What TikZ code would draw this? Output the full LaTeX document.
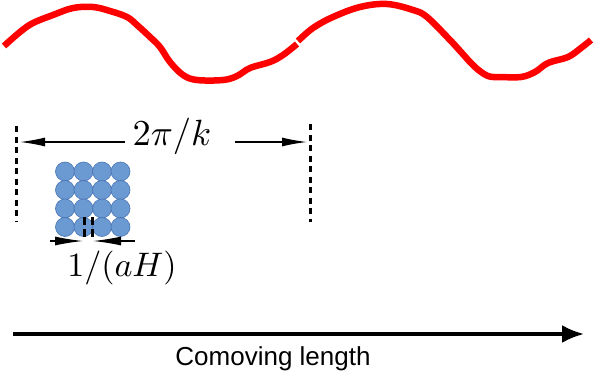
\documentclass[tikz,border=0pt]{standalone}
\usepackage{fontspec}
\setsansfont{Liberation Sans}
\usetikzlibrary{arrows.meta}
\definecolor{wavered}{RGB}{255,0,0}
\definecolor{ballfill}{RGB}{107,153,210}
\definecolor{balldraw}{RGB}{72,116,178}
\tikzset{
  wave/.style={wavered, line width=6.5pt, line join=round},
  dashv/.style={line width=3pt, dash pattern=on 6pt off 4.5pt},
  marker/.style={line width=3pt, dash pattern=on 8pt off 4pt},
  ball/.style={circle, minimum size=19pt, inner sep=0pt, fill=ballfill, draw=balldraw, line width=0.6pt},
  dimarrow/.style={line width=1.3pt, -{Latex[length=25pt, width=9pt]}},
  smallarrow/.style={line width=1.3pt, -{Latex[length=28pt, width=9pt]}},
  axisarrow/.style={line width=3.2pt, -{Latex[length=22pt, width=18pt]}},
  mathlabel/.style={inner sep=0pt},
}
\begin{document}
\begin{tikzpicture}[x=1pt, y=-1pt]
\useasboundingbox (0,0) rectangle (598,383);
% wave
\draw[wave] plot[smooth, tension=0.6] coordinates {(4,46) (20,32) (33,23) (53,15) (73,8) (93,7) (110,11) (127,17) (137,25) (150,37) (160,47) (170,62) (183,75) (197,80) (223,80) (237,76) (250,68) (270,62) (283,55) (297,44)};
\draw[wave] plot[smooth, tension=0.6] coordinates {(298,41) (313,28) (333,17) (360,7) (387,4) (413,10) (427,17) (450,40) (461,52) (475,67) (488,76) (501,77) (521,77) (535,72) (548,63) (568,57) (581,48) (591,40)};
% dashed verticals
\coordinate (l1) at (16,126); \coordinate (l2) at (16,222);
\coordinate (r1) at (310,124); \coordinate (r2) at (310,222);
\draw[dashv] (l1) -- (l2);
\draw[dashv] (r1) -- (r2);
% 2pi/k label and arrows
\node[mathlabel] (k) at (172,136) {\scalebox{3.65}{$2\pi/k$}};
\coordinate (ka) at (20,142); \coordinate (kb) at (307,142);
\coordinate (kl) at (125,142); \coordinate (kr) at (235,142);
\draw[dimarrow] (kl) -- (ka);
\draw[dimarrow] (kr) -- (kb);
% balls
\foreach \i in {0,...,3}{
  \foreach \j in {0,...,3}{
    \node[ball] (b\i\j) at (65+18.5*\i, 171.5+18.5*\j) {};
  }
}
% small dashed markers
\coordinate (m1) at (84,217); \coordinate (m2) at (84,239);
\coordinate (m3) at (92,217); \coordinate (m4) at (92,239);
\draw[marker] (m1) -- (m2);
\draw[marker] (m3) -- (m4);
\coordinate (s1) at (50,241); \coordinate (s2) at (83,241);
\coordinate (s3) at (135,241); \coordinate (s4) at (93,241);
\draw[smallarrow] (s1) -- (s2);
\draw[smallarrow] (s3) -- (s4);
\node[mathlabel] (aH) at (122,268) {\scalebox{3.4}{$1/(aH)$}};
% axis
\coordinate (a1) at (13,334); \coordinate (a2) at (584,334);
\draw[axisarrow] (a1) -- (a2);
\node[inner sep=0pt, font=\sffamily\fontsize{26}{30}\selectfont] (cl) at (273,359) {Comoving length};
\end{tikzpicture}
\end{document}
